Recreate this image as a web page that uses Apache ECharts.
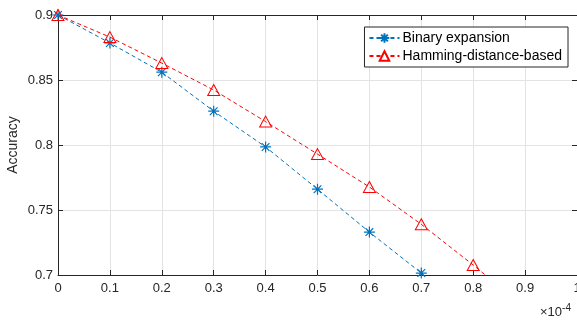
<!DOCTYPE html>
<html>
<head>
<meta charset="utf-8">
<script src="https://cdn.jsdelivr.net/npm/echarts@6/dist/echarts.min.js"></script>
<style>
  html, body { margin: 0; padding: 0; background: #fff; overflow: hidden; }
  #chart { width: 577px; height: 320px; }
</style>
</head>
<body>
<div id="chart"></div>
<script>
// x values are in units of 1e-4
const binaryX = [0, 0.1, 0.2, 0.3, 0.4, 0.5, 0.6, 0.7, 0.8]
const binaryY = [0.9, 0.8785, 0.856, 0.826, 0.7985, 0.766, 0.733, 0.7015, 0.665]
const hammingX = [0, 0.1, 0.2, 0.3, 0.4, 0.5, 0.6, 0.7, 0.8, 0.9]
const hammingY = [0.9, 0.883, 0.863, 0.8423, 0.818, 0.793, 0.7677, 0.739, 0.7077, 0.6745]
const seriesNames = ['Binary expansion', 'Hamming-distance-based']

const toPairs = (xs, ys) => xs.map((x, i) => [x, ys[i]])

// asterisk: plus + cross, stroked
const asterisk = 'path://M10 0 L10 20 M0 10 L20 10 M3 3 L17 17 M17 3 L3 17'

const axisCol = '#262626'
const font = 'Liberation Sans, Arial, Helvetica, sans-serif'

var mychart = echarts.init(document.getElementById('chart'))

let option = {
    animation: false,
    backgroundColor: '#fff',
    grid: { left: 58, right: 0, top: 15, bottom: 45, containLabel: false, outerBoundsMode: 'none' },
    xAxis: [
        {
            type: 'value', min: 0, max: 1, interval: 0.1,
            axisLine: { onZero: false, lineStyle: { color: axisCol, width: 1 } },
            axisTick: { inside: true, length: 5, lineStyle: { color: axisCol } },
            axisLabel: { color: axisCol, fontFamily: font, fontSize: 13, margin: 7,
                formatter: v => (Math.round(v * 10) / 10).toString() },
            splitLine: { show: true, lineStyle: { color: '#e3e3e3' } }
        },
        {
            type: 'value', min: 0, max: 1, interval: 0.1, position: 'top',
            axisLine: { onZero: false, lineStyle: { color: axisCol, width: 1 } },
            axisTick: { inside: true, length: 5, lineStyle: { color: axisCol } },
            axisLabel: { show: false },
            splitLine: { show: false }
        }
    ],
    yAxis: [
        {
            type: 'value', min: 0.7, max: 0.9, interval: 0.05,
            name: 'Accuracy', nameLocation: 'middle', nameGap: 38, nameMoveOverlap: false,
            nameTextStyle: { color: axisCol, fontFamily: font, fontSize: 14 },
            axisLine: { onZero: false, lineStyle: { color: axisCol, width: 1 } },
            axisTick: { inside: true, length: 5, lineStyle: { color: axisCol } },
            axisLabel: { color: axisCol, fontFamily: font, fontSize: 13, margin: 5,
                formatter: v => (Math.round(v * 100) / 100).toString() },
            splitLine: { show: true, lineStyle: { color: '#e3e3e3' } }
        },
        {
            type: 'value', min: 0.7, max: 0.9, interval: 0.05, position: 'right',
            axisLine: { onZero: false, lineStyle: { color: axisCol, width: 1 } },
            axisTick: { inside: true, length: 5, lineStyle: { color: axisCol } },
            axisLabel: { show: false },
            splitLine: { show: false }
        }
    ],
    legend: {
        right: 9, top: 27,
        orient: 'vertical',
        backgroundColor: '#fff',
        borderColor: axisCol, borderWidth: 1, borderRadius: 0,
        padding: [4, 6, 4, 4],
        itemGap: 4, itemWidth: 30, itemHeight: 12,
        itemStyle: { color: '#fff' },
        textStyle: { color: '#000', fontFamily: font, fontSize: 14, padding: [0, 0, 0, -2] },
        data: seriesNames
    },
    graphic: [
        {
            type: 'text', left: 540, top: 303,
            style: {
                text: '×10{s|-4}',
                rich: { s: { fontSize: 10, verticalAlign: 'top', padding: [0, 0, 8, 0], fill: axisCol, fontFamily: font } },
                fill: axisCol, fontFamily: font, fontSize: 13
            }
        }
    ],
    series: [
        {
            name: seriesNames[0], type: 'line', data: toPairs(binaryX, binaryY),
            clip: true,
            symbol: asterisk, symbolSize: 11,
            color: '#0072BD',
            itemStyle: { color: 'none', borderColor: '#0072BD', borderWidth: 1.2 },
            lineStyle: { color: '#0072BD', width: 1, type: [4, 3] },
            z: 3
        },
        {
            name: seriesNames[1], type: 'line', data: toPairs(hammingX, hammingY),
            clip: true,
            symbol: 'triangle', symbolSize: [12, 11],
            color: '#FF0000',
            itemStyle: { color: 'none', borderColor: '#FF0000', borderWidth: 1 },
            lineStyle: { color: '#FF0000', width: 1, type: [4, 3] },
            z: 3
        }
    ]
}
mychart.setOption(option)
</script>
</body>
</html>
